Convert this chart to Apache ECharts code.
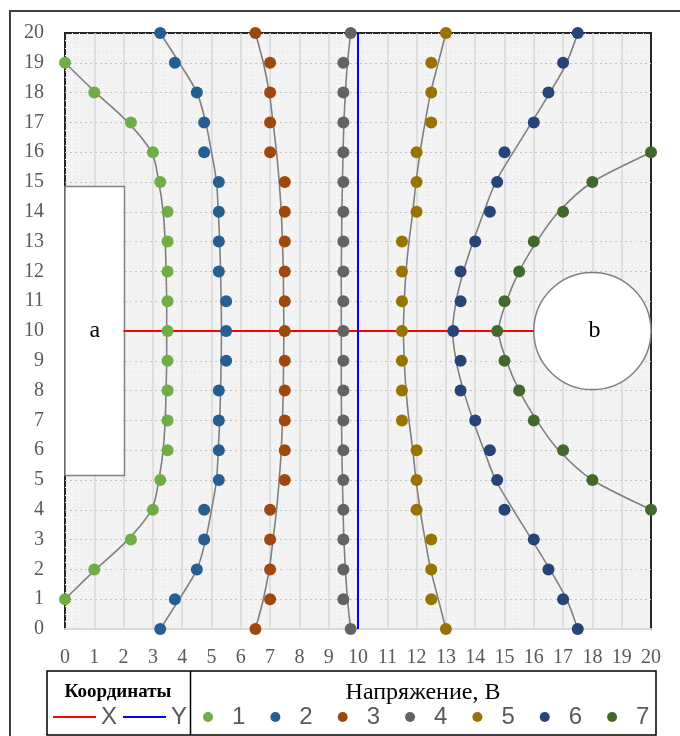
<!DOCTYPE html>
<html>
<head>
<meta charset="utf-8">
<script src="https://cdn.jsdelivr.net/npm/echarts@6/dist/echarts.min.js"></script>
<style>
  html, body { margin: 0; padding: 0; background: #ffffff; }
  #chart { width: 680px; height: 736px; }
</style>
</head>
<body>
<div id="chart"></div>
<script>
// ---------- data ----------
const xTicks = [0,1,2,3,4,5,6,7,8,9,10,11,12,13,14,15,16,17,18,19,20];
const yFull = [20,19,18,17,16,15,14,13,12,11,10,9,8,7,6,5,4,3,2,1,0];
const y1 = [19,18,17,16,15,14,13,12,11,10,9,8,7,6,5,4,3,2,1];
const y7 = [16,15,14,13,12,11,10,9,8,7,6,5,4];

const s1X = [0,1,2.25,3,3.25,3.5,3.5,3.5,3.5,3.5,3.5,3.5,3.5,3.5,3.25,3,2.25,1,0];
const s2X = [3.25,3.75,4.5,4.75,4.75,5.25,5.25,5.25,5.25,5.5,5.5,5.5,5.25,5.25,5.25,5.25,4.75,4.75,4.5,3.75,3.25];
const s3X = [6.5,7,7,7,7,7.5,7.5,7.5,7.5,7.5,7.5,7.5,7.5,7.5,7.5,7.5,7,7,7,7,6.5];
const s4X = [9.75,9.5,9.5,9.5,9.5,9.5,9.5,9.5,9.5,9.5,9.5,9.5,9.5,9.5,9.5,9.5,9.5,9.5,9.5,9.5,9.75];
const s5X = [13,12.5,12.5,12.5,12,12,12,11.5,11.5,11.5,11.5,11.5,11.5,11.5,12,12,12,12.5,12.5,12.5,13];
const s6X = [17.5,17,16.5,16,15,14.75,14.5,14,13.5,13.5,13.25,13.5,13.5,14,14.5,14.75,15,16,16.5,17,17.5];
const s7X = [20,18,17,16,15.5,15,14.75,15,15.5,16,17,18,20];

// fitted trend curves
const c1X = [0,1.05,2.15,2.95,3.2,3.35,3.42,3.45,3.47,3.47,3.47,3.45,3.42,3.35,3.2,2.95,2.15,1.05,0];
const c2X = [3.25,3.9,4.5,4.8,5.0,5.17,5.23,5.28,5.31,5.33,5.34,5.33,5.31,5.28,5.23,5.17,5.0,4.8,4.5,3.9,3.25];
const c3X = [6.5,6.77,6.97,7.1,7.22,7.31,7.38,7.42,7.45,7.46,7.47,7.46,7.45,7.42,7.38,7.31,7.22,7.1,6.97,6.77,6.5];
const c4X = [9.75,9.64,9.57,9.52,9.49,9.47,9.45,9.44,9.43,9.43,9.43,9.43,9.43,9.44,9.45,9.47,9.49,9.52,9.57,9.64,9.75];
const c5X = [13,12.74,12.48,12.29,12.12,11.98,11.87,11.74,11.64,11.58,11.55,11.58,11.64,11.74,11.87,11.98,12.12,12.29,12.48,12.74,13];
const c6X = [17.5,17.12,16.55,15.93,15.3,14.7,14.3,13.93,13.6,13.35,13.23,13.35,13.6,13.93,14.3,14.7,15.3,15.93,16.55,17.12,17.5];
const c7Y = [16,15,14,13,12,11,10,9,8,7,6,5,4];
const c7X = [20,18.0,16.85,16.1,15.5,15.07,14.8,15.07,15.5,16.1,16.85,18.0,20];

// electrodes
const rectA = [0, 5.15, 2.03, 14.85];   // x0, y0, x1, y1
const circleB = [18, 10, 2];             // cx, cy, r
const lineX = [[2,10],[16,10]];
const lineY = [[10,0],[10,20]];

const seriesNames = ['1','2','3','4','5','6','7'];
const seriesColors = ['#70ad47','#255e91','#9e480e','#636363','#997300','#264478','#43682b'];
const seriesXs = [s1X,s2X,s3X,s4X,s5X,s6X,s7X];
const seriesYs = [y1,yFull,yFull,yFull,yFull,yFull,y7];
const curveXs = [c1X,c2X,c3X,c4X,c5X,c6X,c7X];
const curveYs = [y1,yFull,yFull,yFull,yFull,yFull,c7Y];

// ---------- chart ----------
const zip = (xs, ys) => xs.map((x, i) => [x, ys[i]]);
const serif = 'Liberation Serif, Times New Roman, serif';
const sans = 'Liberation Sans, Arial, sans-serif';

const series = [];

series.push({
  type: 'custom', name: 'a', silent: true, z: 1,
  data: [rectA],
  renderItem: function (params, api) {
    const p0 = api.coord([api.value(0), api.value(3)]);
    const p1 = api.coord([api.value(2), api.value(1)]);
    return {
      type: 'group',
      children: [
        { type: 'rect', shape: { x: p0[0], y: p0[1], width: p1[0] - p0[0], height: p1[1] - p0[1] },
          style: { fill: '#ffffff', stroke: '#808080', lineWidth: 1.5 } },
        { type: 'text', style: { text: 'a', x: (p0[0] + p1[0]) / 2, y: (p0[1] + p1[1]) / 2,
          align: 'center', verticalAlign: 'middle', font: '24px ' + serif, fill: '#000000' } }
      ]
    };
  }
});
series.push({
  type: 'custom', name: 'b', silent: true, z: 1,
  data: [circleB],
  renderItem: function (params, api) {
    const c = api.coord([api.value(0), api.value(1)]);
    const r = api.size([api.value(2), 0])[0];
    return {
      type: 'group',
      children: [
        { type: 'circle', shape: { cx: c[0], cy: c[1], r: r },
          style: { fill: '#ffffff', stroke: '#808080', lineWidth: 1.5 } },
        { type: 'text', style: { text: 'b', x: c[0] + 2, y: c[1],
          align: 'center', verticalAlign: 'middle', font: '24px ' + serif, fill: '#000000' } }
      ]
    };
  }
});

series.push({ type: 'line', name: 'X', data: lineX, symbol: 'none', z: 2, color: '#ff0000',
  lineStyle: { color: '#ff0000', width: 2 }, silent: true });
series.push({ type: 'line', name: 'Y', data: lineY, symbol: 'none', z: 2, color: '#0000ff',
  lineStyle: { color: '#0000ff', width: 2 }, silent: true });

// smooth trend curves: one custom item per curve, drawn as Catmull-Rom bezier through api.coord points
series.push({
  type: 'custom', name: 'trend', silent: true, z: 3,
  data: curveXs.map((xs, i) => [i]),
  renderItem: function (params, api) {
    const k = api.value(0);
    const pts = zip(curveXs[k], curveYs[k]).map(p => api.coord(p));
    let d = 'M' + pts[0][0] + ',' + pts[0][1];
    for (let i = 0; i < pts.length - 1; i++) {
      const p0 = pts[Math.max(i - 1, 0)], p1 = pts[i], p2 = pts[i + 1], p3 = pts[Math.min(i + 2, pts.length - 1)];
      const c1x = p1[0] + (p2[0] - p0[0]) / 6, c1y = p1[1] + (p2[1] - p0[1]) / 6;
      const c2x = p2[0] - (p3[0] - p1[0]) / 6, c2y = p2[1] - (p3[1] - p1[1]) / 6;
      d += ' C' + c1x + ',' + c1y + ' ' + c2x + ',' + c2y + ' ' + p2[0] + ',' + p2[1];
    }
    return { type: 'path', shape: { pathData: d },
      style: { fill: 'none', stroke: '#808080', lineWidth: 1.6 } };
  }
});

for (let i = 0; i < 7; i++) {
  series.push({ type: 'scatter', name: seriesNames[i], data: zip(seriesXs[i], seriesYs[i]),
    symbol: 'circle', symbolSize: 12, z: 4, color: seriesColors[i],
    itemStyle: { color: seriesColors[i], opacity: 1 } });
}

const chart = echarts.init(document.getElementById('chart'), null, { renderer: 'canvas' });
chart.setOption({
  animation: false,
  backgroundColor: '#ffffff',
  grid: { left: 65, right: 29, top: 33, bottom: 107, show: true,
    backgroundColor: '#f2f2f2', borderColor: '#262626', borderWidth: 2 },
  xAxis: {
    type: 'value', min: 0, max: 20, interval: 1,
    axisLine: { show: true, lineStyle: { color: '#d9d9d9', width: 2 } },
    axisTick: { show: false },
    minorTick: { show: false, splitNumber: 4 },
    axisLabel: { margin: 19, fontFamily: serif, fontSize: 20, color: '#595959',
      formatter: v => String(xTicks[v] !== undefined ? xTicks[v] : v) },
    splitLine: { show: true, showMinLine: false, showMaxLine: false,
      lineStyle: { color: '#d9d9d9', width: 1.5, type: 'solid' } },
    minorSplitLine: { show: true, lineStyle: { color: '#ffffff', width: 1, type: [1, 3] } }
  },
  yAxis: {
    type: 'value', min: 0, max: 20, interval: 1,
    axisLine: { show: false },
    axisTick: { show: false },
    minorTick: { show: false, splitNumber: 4 },
    axisLabel: { margin: 21, fontFamily: serif, fontSize: 20, color: '#595959' },
    splitLine: { show: true, showMinLine: false, showMaxLine: false,
      lineStyle: { color: '#c4c4c4', width: 1, type: [2, 3] } },
    minorSplitLine: { show: true, lineStyle: { color: '#ffffff', width: 1, type: [1, 3] } }
  },
  legend: [
    {
      data: ['X', 'Y'], left: 53, top: 705, orient: 'horizontal', padding: 0,
      icon: 'rect', itemWidth: 43, itemHeight: 2, itemGap: 6,
      selectedMode: false,
      textStyle: { fontFamily: sans, fontSize: 24, color: '#595959' }
    },
    {
      data: seriesNames, left: 203, top: 705, orient: 'horizontal', padding: 0,
      icon: 'circle', itemWidth: 10, itemHeight: 10, itemGap: 25,
      selectedMode: false,
      formatter: name => '{n|' + name + '}',
      textStyle: { fontFamily: sans, fontSize: 24, color: '#595959',
        rich: { n: { fontFamily: sans, fontSize: 24, color: '#595959', padding: [0, 0, 0, 14] } } }
    }
  ],
  graphic: [
    { type: 'rect', shape: { x: 10, y: 11, width: 700, height: 760 },
      style: { fill: 'none', stroke: '#404040', lineWidth: 2 }, z: 100, silent: true },
    { type: 'rect', shape: { x: 47, y: 671, width: 609, height: 64 },
      style: { fill: 'none', stroke: '#000000', lineWidth: 1.5 }, z: 100, silent: true },
    { type: 'line', shape: { x1: 190.5, y1: 671, x2: 190.5, y2: 735 },
      style: { stroke: '#000000', lineWidth: 1.5 }, z: 100, silent: true },
    { type: 'text', style: { text: 'Координаты', x: 118, y: 692, align: 'center', verticalAlign: 'middle',
      font: 'bold 19px ' + serif, fill: '#000000' }, z: 100, silent: true },
    { type: 'text', style: { text: 'Напряжение, В', x: 423, y: 693, align: 'center', verticalAlign: 'middle',
      font: '24px ' + serif, fill: '#000000' }, z: 100, silent: true }
  ],
  series: series
});
</script>
</body>
</html>
